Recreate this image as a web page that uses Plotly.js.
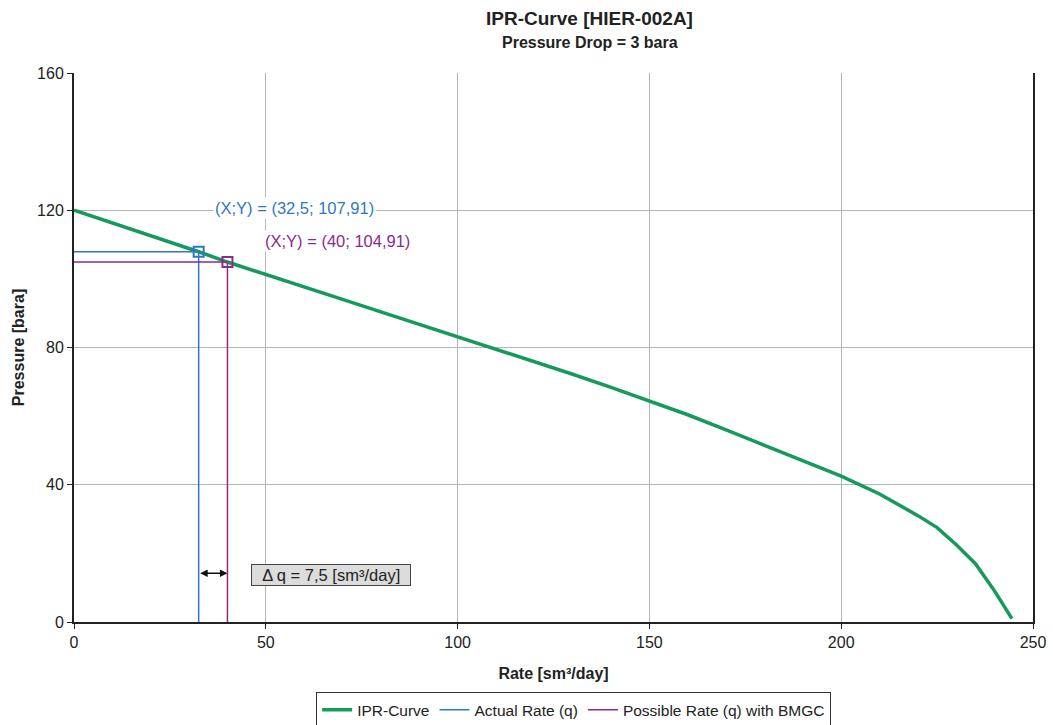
<!DOCTYPE html>
<html>
<head>
<meta charset="utf-8">
<script src="https://cdn.plot.ly/plotly-3.0.1.min.js"></script>
<style>html,body{margin:0;padding:0;background:#fff;}#chart{width:1053px;height:725px;}</style>
</head>
<body>
<div id="chart"></div>
<script>
// IPR curve
const iprRate = [0, 10, 20, 30, 32.5, 40, 50, 60, 70, 80, 90, 100, 110, 120, 130, 140, 150, 160, 170, 180, 190, 200, 210, 220, 225, 230, 235, 240, 244.5];
const iprPressure = [120, 116.3, 112.6, 108.85, 107.91, 104.91, 101.2, 97.5, 94.0, 90.4, 86.8, 83.1, 79.5, 75.8, 72.2, 68.4, 64.5, 60.4, 56.0, 51.5, 47.0, 42.5, 37.3, 31.0, 27.5, 22.5, 17.0, 9.0, 1.0];
const actualRate = 32.5;
const actualPressure = 107.91;
const possibleRate = 40;
const possiblePressure = 104.91;
const deltaQ = 7.5;
const xTicks = [0, 50, 100, 150, 200, 250];
const yTicks = [0, 40, 80, 120, 160];

const green = '#16995c', blue = '#2f78c4', purple = '#8c2a8c';
const font = 'Liberation Sans, Arial, sans-serif';

const traces = [
  {x: iprRate, y: iprPressure, mode: 'lines', name: 'IPR-Curve',
   line: {color: green, width: 3.5}},
  {x: [0, actualRate, actualRate], y: [actualPressure, actualPressure, 0], mode: 'lines',
   name: 'Actual Rate (q)', line: {color: blue, width: 1.5}},
  {x: [0, possibleRate, possibleRate], y: [possiblePressure, possiblePressure, 0], mode: 'lines',
   name: 'Possible Rate (q) with BMGC', line: {color: purple, width: 1.5}},
  {x: [actualRate], y: [actualPressure], mode: 'markers', showlegend: false,
   marker: {symbol: 'square-open', size: 10, color: blue, line: {width: 2, color: blue}}},
  {x: [possibleRate], y: [possiblePressure], mode: 'markers', showlegend: false,
   marker: {symbol: 'square-open', size: 10, color: purple, line: {width: 2, color: purple}}}
];

const fmt = v => String(v).replace('.', ',');

const layout = {
  width: 1053, height: 725,
  margin: {l: 74, r: 20, t: 73, b: 103, autoexpand: false},
  paper_bgcolor: '#fff', plot_bgcolor: '#fff',
  font: {family: font, size: 16, color: '#222'},
  showlegend: true,
  legend: {orientation: 'h', x: 0.521, xanchor: 'center', y: -0.128, yanchor: 'top',
           bordercolor: '#333', borderwidth: 1, font: {size: 15.5, color: '#222'},
           tracegroupgap: 0, itemwidth: 30},
  xaxis: {range: [0, 250], tickvals: xTicks, ticktext: xTicks.map(String),
          showgrid: true, gridcolor: '#b5b5b5', gridwidth: 1,
          showline: true, linecolor: '#222', linewidth: 2,
          ticks: 'outside', ticklen: 5, tickcolor: '#222', zeroline: false,
          title: {text: '<b>Rate [sm³/day]</b>', font: {size: 16, color: '#222'}, standoff: 18}},
  yaxis: {range: [0, 160], tickvals: yTicks, ticktext: yTicks.map(String),
          showgrid: true, gridcolor: '#b5b5b5', gridwidth: 1,
          showline: true, linecolor: '#222', linewidth: 2, mirror: true,
          ticks: 'outside', ticklen: 5, tickcolor: '#222', zeroline: false,
          title: {text: '<b>Pressure [bara]</b>', font: {size: 16, color: '#222'}, standoff: 8}},
  annotations: [
    {xref: 'paper', yref: 'paper', x: 0.5376, y: 1.10, xanchor: 'center', yanchor: 'middle',
     text: '<b>IPR-Curve [HIER-002A]</b>', showarrow: false, font: {size: 19, color: '#222'}},
    {xref: 'paper', yref: 'paper', x: 0.5376, y: 1.055, xanchor: 'center', yanchor: 'middle',
     text: '<b>Pressure Drop = 3 bara</b>', showarrow: false, font: {size: 16, color: '#222'}},
    {x: 57.4, y: 120.6, text: '(X;Y) = (' + fmt(actualRate) + '; ' + fmt(actualPressure) + ')',
     showarrow: false, bgcolor: '#fff', font: {size: 16.5, color: blue}},
    {x: 68.8, y: 110.9, text: '(X;Y) = (' + fmt(possibleRate) + '; ' + fmt(possiblePressure) + ')',
     showarrow: false, bgcolor: '#fff', font: {size: 16.5, color: purple}},
    {x: possibleRate, y: 14.2, ax: actualRate, ay: 14.2, axref: 'x', ayref: 'y',
     text: '', showarrow: true, arrowhead: 2, startarrowhead: 2, arrowside: 'end+start',
     arrowsize: 1, arrowwidth: 1.5, arrowcolor: '#111', standoff: 0, startstandoff: 0},
    {x: 66.9, y: 13.6, text: '&nbsp;&nbsp;Δ q = ' + fmt(deltaQ) + ' [sm³/day]&nbsp;&nbsp;', showarrow: false,
     bgcolor: '#dcdcdc', bordercolor: '#444', borderwidth: 1, borderpad: 1,
     font: {size: 16.5, color: '#222'}}
  ]
};

Plotly.newPlot('chart', traces, layout, {displayModeBar: false, staticPlot: true});
</script>
</body>
</html>
